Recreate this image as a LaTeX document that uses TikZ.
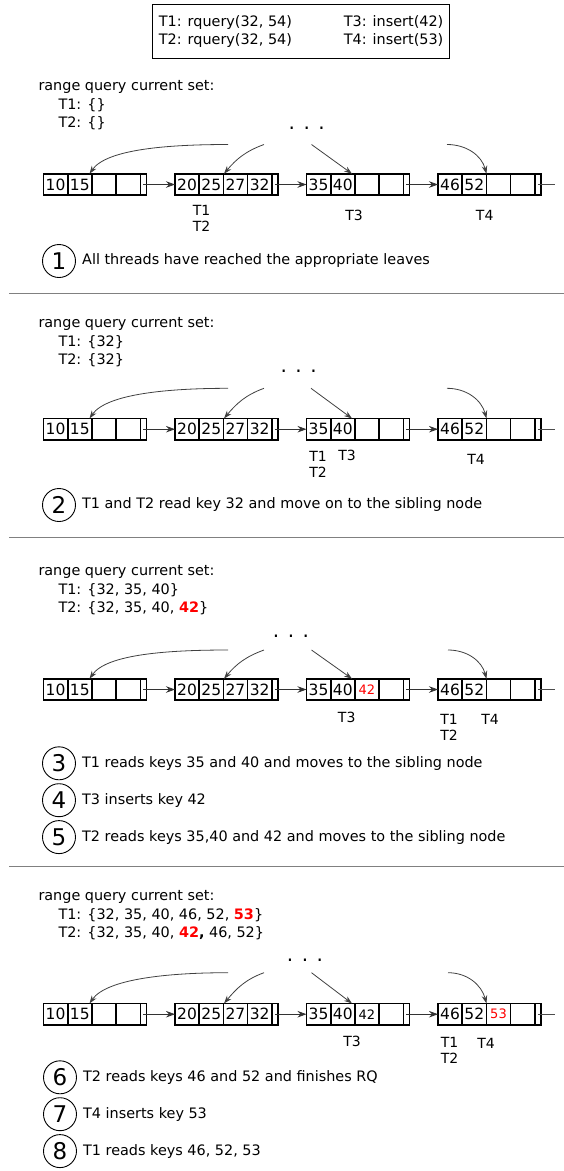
\documentclass[tikz,border=0pt]{standalone}
\usepackage{fontspec}
\setmainfont{DejaVu Sans}
\usetikzlibrary{arrows.meta,positioning,topaths}
\tikzset{
  leafbox/.style={rectangle,draw=black,line width=1.6pt,outer sep=0pt,inner sep=0pt,
    minimum width=103pt,minimum height=21.5pt},
  cellline/.style={line width=1.6pt},
  keytext/.style={inner sep=0pt,font=\fontsize{15.5}{18}\selectfont},
  nextptr/.style={-{Stealth[length=9pt,width=6.5pt]},line width=0.8pt,black!80},
  downptr/.style={-{Stealth[length=8pt,width=5.5pt]},line width=0.8pt,black!75},
  tailline/.style={line width=0.8pt,black!70},
  opsbox/.style={rectangle,draw=black,line width=1pt,anchor=north west,inner xsep=6.6pt,
    minimum height=54.3pt,font=\fontsize{14.4}{18.3}\selectfont},
  settext/.style={anchor=north west,align=left,inner sep=0pt,font=\fontsize{14.4}{18.5}\selectfont},
  thread/.style={align=center,inner sep=0pt,font=\fontsize{14}{16}\selectfont},
  dots/.style={inner sep=0pt,font=\fontsize{20}{20}\selectfont},
  stepcirc/.style={circle,draw=black,line width=0.9pt,minimum size=33pt,inner sep=0pt,
    font=\fontsize{23}{23}\selectfont},
  steptext/.style={anchor=west,inner sep=0pt,font=\fontsize{14.4}{18}\selectfont},
  separator/.style={line width=1pt,black!50},
}
\newcommand{\inskey}[1]{{\fontsize{13}{16}\selectfont #1}}
\newcommand{\leafnode}[6]{%
  \node[leafbox,#2] (#1) {};
  \foreach \i in {1,...,4}
    \draw[cellline] ([xshift=\i*24.2pt]#1.north west) -- ([xshift=\i*24.2pt]#1.south west);
  \node[keytext] at ([xshift=12.1pt]#1.west) {#3};
  \node[keytext] at ([xshift=36.3pt]#1.west) {#4};
  \node[keytext] at ([xshift=60.5pt]#1.west) {#5};
  \node[keytext] at ([xshift=84.7pt]#1.west) {#6};
}

\begin{document}
\begin{tikzpicture}[x=1pt,y=1pt]
  \useasboundingbox (0,0) rectangle (564,-1171);

  \node[opsbox] (ops) at (151.7,-4) {\begin{tabular}{@{}p{185pt}@{}l@{}}
    T1: rquery(32, 54) & T3: insert(42)\\
    T2: rquery(32, 54) & T4: insert(53)\end{tabular}};

  % step 1
  \node[settext] (set1) at (38.3,-77.7)
    {\strut range query current set:\\\hspace*{20pt}T1: \{\}\\\hspace*{20pt}T2: \{\}};
  \node[dots] (up1) at (306.7,-128.3) {. . .};
  \leafnode{p1a}{anchor=west,at={(43.5,-184.5)}}{10}{15}{}{}
  \leafnode{p1b}{right=28.5pt of p1a}{20}{25}{27}{32}
  \leafnode{p1c}{right=28.5pt of p1b}{35}{40}{}{}
  \leafnode{p1d}{right=28.5pt of p1c}{46}{52}{}{}
  \draw[nextptr] ([xshift=-3.1pt]p1a.east) -- (p1b);
  \draw[nextptr] ([xshift=-3.1pt]p1b.east) -- (p1c);
  \draw[nextptr] ([xshift=-3.1pt]p1c.east) -- (p1d);
  \draw[tailline] ([xshift=-3.1pt]p1d.east) -- ([xshift=14pt]p1d.east);
  \coordinate (p1u1) at (228,-144.5);
  \coordinate (p1u2) at (264,-144.5);
  \coordinate (p1u3) at (311.5,-144.5);
  \coordinate (p1u4) at (447,-144.5);
  \draw[downptr] (p1u1) to[out=180,in=55,out distance=60pt,in distance=30pt] ([xshift=46pt]p1a.north west);
  \draw[downptr] (p1u2) to[out=200,in=50] ([xshift=49pt]p1b.north west);
  \draw[downptr] (p1u3) -- ([xshift=45.5pt]p1c.north west);
  \draw[downptr] (p1u4) to[out=0,in=105] ([xshift=48.5pt]p1d.north west);
  \node[thread] (p1t12) at (201.5,-218.75) {T1\\T2};
  \node[thread] (p1t3) at (354,-215) {T3};
  \node[thread] (p1t4) at (484.7,-215) {T4};
  \node[stepcirc] (s1) at (59,-261) {1};
  \node[steptext,right=6pt of s1] (s1txt) {All threads have reached the appropriate leaves};
  \draw[separator] (9,-293.3) -- (564,-293.3);

  % step 2
  \node[settext] (set2) at (38.3,-314.35)
    {\strut range query current set:\\\hspace*{20pt}T1: \{32\}\\\hspace*{20pt}T2: \{32\}};
  \node[dots] (up2) at (298.6,-371.7) {. . .};
  \leafnode{p2a}{anchor=west,at={(43.5,-429.2)}}{10}{15}{}{}
  \leafnode{p2b}{right=28.5pt of p2a}{20}{25}{27}{32}
  \leafnode{p2c}{right=28.5pt of p2b}{35}{40}{}{}
  \leafnode{p2d}{right=28.5pt of p2c}{46}{52}{}{}
  \draw[nextptr] ([xshift=-3.1pt]p2a.east) -- (p2b);
  \draw[nextptr] ([xshift=-3.1pt]p2b.east) -- (p2c);
  \draw[nextptr] ([xshift=-3.1pt]p2c.east) -- (p2d);
  \draw[tailline] ([xshift=-3.1pt]p2d.east) -- ([xshift=14pt]p2d.east);
  \coordinate (p2u1) at (228,-388.3);
  \coordinate (p2u2) at (264,-388.3);
  \coordinate (p2u3) at (311,-388.3);
  \coordinate (p2u4) at (447,-388.3);
  \draw[downptr] (p2u1) to[out=180,in=55,out distance=60pt,in distance=30pt] ([xshift=46pt]p2a.north west);
  \draw[downptr] (p2u2) to[out=200,in=50] ([xshift=49pt]p2b.north west);
  \draw[downptr] (p2u3) -- ([xshift=45.5pt]p2c.north west);
  \draw[downptr] (p2u4) to[out=0,in=105] ([xshift=48.5pt]p2d.north west);
  \node[thread] (p2t12) at (318,-464.2) {T1\\T2};
  \node[thread] (p2t3) at (347,-455.7) {T3};
  \node[thread] (p2t4) at (476,-459.3) {T4};
  \node[stepcirc] (s2) at (59,-505) {2};
  \node[steptext,right=6pt of s2] (s2txt) {T1 and T2 read key 32 and move on to the sibling node};
  \draw[separator] (9,-537.3) -- (564,-537.3);

  % steps 3-5
  \node[settext] (set3) at (38.3,-562.75)
    {\strut range query current set:\\\hspace*{20pt}T1: \{32, 35, 40\}\\
     \hspace*{20pt}T2: \{32, 35, 40, \textcolor{red}{\textbf{42}}\}};
  \node[dots] (up3) at (291,-636) {. . .};
  \leafnode{p3a}{anchor=west,at={(43.5,-689.5)}}{10}{15}{}{}
  \leafnode{p3b}{right=28.5pt of p3a}{20}{25}{27}{32}
  \leafnode{p3c}{right=28.5pt of p3b}{35}{40}{\inskey{\color{red}42}}{}
  \leafnode{p3d}{right=28.5pt of p3c}{46}{52}{}{}
  \draw[nextptr] ([xshift=-3.1pt]p3a.east) -- (p3b);
  \draw[nextptr] ([xshift=-3.1pt]p3b.east) -- (p3c);
  \draw[nextptr] ([xshift=-3.1pt]p3c.east) -- (p3d);
  \draw[tailline] ([xshift=-3.1pt]p3d.east) -- ([xshift=14pt]p3d.east);
  \coordinate (p3u1) at (228,-650);
  \coordinate (p3u2) at (264,-650);
  \coordinate (p3u3) at (311.5,-650);
  \coordinate (p3u4) at (448,-650);
  \draw[downptr] (p3u1) to[out=180,in=55,out distance=60pt,in distance=30pt] ([xshift=46pt]p3a.north west);
  \draw[downptr] (p3u2) to[out=200,in=50] ([xshift=49pt]p3b.north west);
  \draw[downptr] (p3u3) -- ([xshift=45.5pt]p3c.north west);
  \draw[downptr] (p3u4) to[out=0,in=105] ([xshift=48.5pt]p3d.north west);
  \node[thread] (p3t3) at (346.7,-717.3) {T3};
  \node[thread] (p3t12) at (449,-727.2) {T1\\T2};
  \node[thread] (p3t4) at (490,-719.3) {T4};
  \node[stepcirc] (s3) at (59,-763.3) {3};
  \node[steptext,right=6pt of s3] (s3txt) {T1 reads keys 35 and 40 and moves to the sibling node};
  \node[stepcirc,below=3pt of s3] (s4) {4};
  \node[steptext,right=6pt of s4] (s4txt) {T3 inserts key 42};
  \node[stepcirc,below=3pt of s4] (s5) {5};
  \node[steptext,right=6pt of s5] (s5txt) {T2 reads keys 35,40 and 42 and moves to the sibling node};
  \draw[separator] (9,-866.7) -- (564,-866.7);

  % steps 6-8
  \node[settext] (set4) at (38.3,-887.75)
    {\strut range query current set:\\
     \hspace*{20pt}T1: \{32, 35, 40, 46, 52, \textcolor{red}{\textbf{53}}\}\\
     \hspace*{20pt}T2: \{32, 35, 40, \textcolor{red}{\textbf{42}}\textbf{,} 46, 52\}};
  \node[dots] (up4) at (305,-960) {. . .};
  \leafnode{p4a}{anchor=west,at={(43.5,-1014.2)}}{10}{15}{}{}
  \leafnode{p4b}{right=28.5pt of p4a}{20}{25}{27}{32}
  \leafnode{p4c}{right=28.5pt of p4b}{35}{40}{\inskey{42}}{}
  \leafnode{p4d}{right=28.5pt of p4c}{46}{52}{\inskey{\color{red}53}}{}
  \draw[nextptr] ([xshift=-3.1pt]p4a.east) -- (p4b);
  \draw[nextptr] ([xshift=-3.1pt]p4b.east) -- (p4c);
  \draw[nextptr] ([xshift=-3.1pt]p4c.east) -- (p4d);
  \draw[tailline] ([xshift=-3.1pt]p4d.east) -- ([xshift=14pt]p4d.east);
  \coordinate (p4u1) at (228,-972.7);
  \coordinate (p4u2) at (264,-972.7);
  \coordinate (p4u3) at (311.5,-972.7);
  \coordinate (p4u4) at (448,-972.7);
  \draw[downptr] (p4u1) to[out=180,in=55,out distance=60pt,in distance=30pt] ([xshift=46pt]p4a.north west);
  \draw[downptr] (p4u2) to[out=200,in=50] ([xshift=49pt]p4b.north west);
  \draw[downptr] (p4u3) -- ([xshift=45.5pt]p4c.north west);
  \draw[downptr] (p4u4) to[out=0,in=105] ([xshift=48.5pt]p4d.north west);
  \node[thread] (p4t3) at (352,-1041.7) {T3};
  \node[thread] (p4t12) at (449.5,-1050.8) {T1\\T2};
  \node[thread] (p4t4) at (486,-1043.3) {T4};
  \node[stepcirc] (s6) at (60,-1077.3) {6};
  \node[steptext,right=6pt of s6] (s6txt) {T2 reads keys 46 and 52 and finishes RQ};
  \node[stepcirc,below=3pt of s6] (s7) {7};
  \node[steptext,right=6pt of s7] (s7txt) {T4 inserts key 53};
  \node[stepcirc,below=3pt of s7] (s8) {8};
  \node[steptext,right=6pt of s8] (s8txt) {T1 reads keys 46, 52, 53};
\end{tikzpicture}
\end{document}
